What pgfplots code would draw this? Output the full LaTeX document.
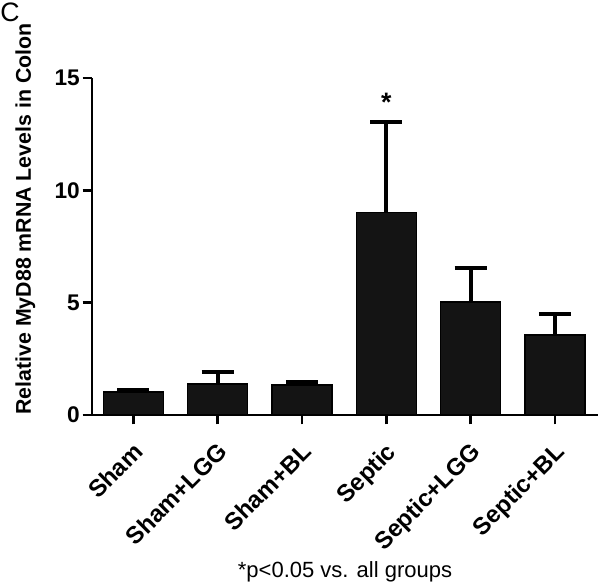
\documentclass[border=0pt]{standalone}
\usepackage{fontspec}
\setmainfont{Liberation Sans}
\usepackage{pgfplots}
\pgfplotsset{compat=1.18}

\begin{document}
\begin{tikzpicture}
% frame so the page keeps the reference's proportions
\path[use as bounding box] (-69pt,-128.25pt) rectangle (381pt,311.25pt);
\begin{axis}[
    at={(0,0)}, anchor=south west,
    scale only axis,
    width=379.5pt, height=252.75pt,
    xmin=-0.49, xmax=5.51,
    ymin=0, ymax=15,
    axis x line=bottom, axis y line=left,
    axis line style={-, line width=2.2pt, black},
    xtick=data,
    xticklabels={Sham, Sham+LGG, Sham+BL, Septic, Septic+LGG, Septic+BL},
    ytick={0,5,10,15},
    tick align=outside,
    major tick length=7pt,
    tick style={line width=2pt, black},
    /pgf/number format/assume math mode=true,
    yticklabel style={font=\bfseries\fontsize{17}{20}\selectfont, inner sep=2pt},
    xticklabel style={font=\bfseries\fontsize{18}{22}\selectfont,
        xshift=-1pt, yshift=-11pt, rotate=45, anchor=north east, inner sep=1pt},
    ybar, bar width=45pt,
]
\addplot[fill=black!92, draw=black, line width=1pt,
    error bars/.cd, y dir=plus, y explicit,
    error bar style={line width=3pt, black},
    error mark options={rotate=90, mark size=12pt, line width=3pt, black}]
  coordinates {
    (0,1.02) +- (0,0.10)
    (1,1.38) +- (0,0.53)
    (2,1.33) +- (0,0.15)
    (3,9.00) +- (0,4.05)
    (4,5.03) +- (0,1.52)
    (5,3.56) +- (0,0.95)
  };
\node[font=\bfseries\fontsize{20}{22}\selectfont, anchor=south] at (axis cs:3,13.3) {*};
\end{axis}
\node[rotate=90, font=\bfseries\fontsize{16}{18}\selectfont] at (-50pt,147pt)
  {Relative MyD88 mRNA Levels in Colon};
\node[anchor=north west, font=\fontsize{20}{22}\selectfont, inner sep=0pt] at (-69pt,309pt) {C};
\node[font=\fontsize{16.5}{18}\selectfont] at (189.75pt,-117.75pt) {*p<0.05 vs. all groups};
\end{tikzpicture}
\end{document}
